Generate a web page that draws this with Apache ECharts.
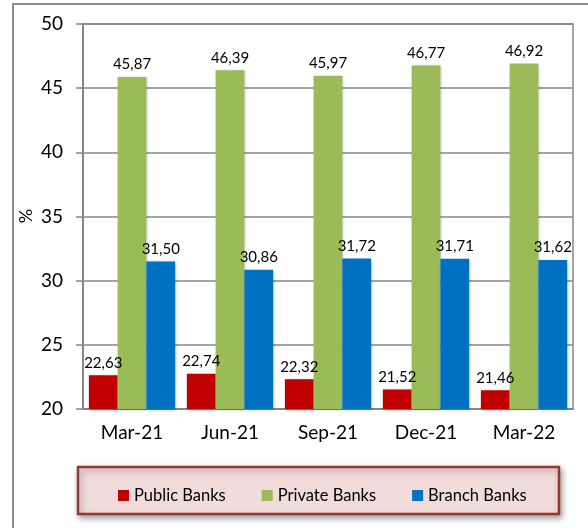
<!DOCTYPE html>
<html>
<head>
<meta charset="utf-8">
<script src="https://cdn.jsdelivr.net/npm/echarts@6/dist/echarts.min.js"></script>
<style>
  html, body { margin: 0; padding: 0; background: #fff; }
  #main { width: 588px; height: 528px; }
</style>
</head>
<body>
<div id="main"></div>
<script>
// data
var quarters = ['Mar-21', 'Jun-21', 'Sep-21', 'Dec-21', 'Mar-22'];
var publicBanks = [22.63, 22.74, 22.32, 21.52, 21.46];
var privateBanks = [45.87, 46.39, 45.97, 46.77, 46.92];
var branchBanks = [31.50, 30.86, 31.72, 31.71, 31.62];

var chart = echarts.init(document.getElementById('main'));
var font = 'Lato, "Open Sans", sans-serif';

function commaLabel(p) {
  return p.value.toFixed(2).replace('.', ',');
}

function barSeries(name, data, color) {
  return {
    name: name,
    type: 'bar',
    data: data,
    barGap: 0,
    barCategoryGap: '12%',
    itemStyle: {
      color: color,
      shadowBlur: 3,
      shadowColor: 'rgba(0,0,0,0.3)',
      shadowOffsetX: 1,
      shadowOffsetY: 1
    },
    label: {
      show: true,
      position: 'top',
      distance: 5,
      color: '#000',
      fontFamily: font,
      fontSize: 15,
      formatter: commaLabel
    }
  };
}

var option = {
  backgroundColor: '#fff',
  animation: false,
  graphic: [
    {
      type: 'rect',
      shape: { x: 13, y: 4, width: 600, height: 560 },
      style: { fill: 'none', stroke: '#8c8c8c', lineWidth: 2 },
      z: -1
    },
    {
      type: 'rect',
      shape: { x: 78, y: 467, width: 481, height: 47 },
      style: {
        fill: '#f2dcdb', stroke: '#953735', lineWidth: 2.5,
        shadowBlur: 6, shadowColor: 'rgba(0,0,0,0.35)', shadowOffsetX: 2, shadowOffsetY: 3
      },
      z: 0
    },
    {
      // y axis title
      type: 'text',
      x: 26,
      y: 216,
      rotation: Math.PI / 2,
      style: {
        text: '%', fill: '#000', font: '18px ' + font,
        align: 'center', verticalAlign: 'middle'
      }
    }
  ],
  legend: {
    left: 113,
    top: 482,
    itemWidth: 11,
    itemHeight: 11,
    itemGap: 36,
    icon: 'rect',
    z: 10,
    textStyle: { fontFamily: font, fontSize: 16.5, color: '#000' },
    data: ['Public Banks', 'Private Banks', 'Branch Banks']
  },
  grid: {
    left: 83, right: 15, top: 24, bottom: 119,
    show: true,
    borderColor: '#868686',
    borderWidth: 1.5
  },
  xAxis: {
    type: 'category',
    data: quarters,
    axisLine: { lineStyle: { color: '#868686', width: 2 } },
    axisTick: { length: 6, lineStyle: { color: '#868686', width: 1.5 } },
    axisLabel: { color: '#000', fontFamily: font, fontSize: 19, margin: 14 }
  },
  yAxis: {
    type: 'value',
    min: 20,
    max: 50,
    interval: 5,
    axisLine: { show: true, lineStyle: { color: '#868686', width: 2 } },
    axisTick: { show: true, length: 7, lineStyle: { color: '#868686', width: 1.5 } },
    axisLabel: { color: '#000', fontFamily: font, fontSize: 19, margin: 20 },
    splitLine: { lineStyle: { color: '#868686', width: 1.5 } }
  },
  series: [
    barSeries('Public Banks', publicBanks, '#c00000'),
    barSeries('Private Banks', privateBanks, '#9bbb59'),
    barSeries('Branch Banks', branchBanks, '#0070c0')
  ]
};

chart.setOption(option);
</script>
</body>
</html>
